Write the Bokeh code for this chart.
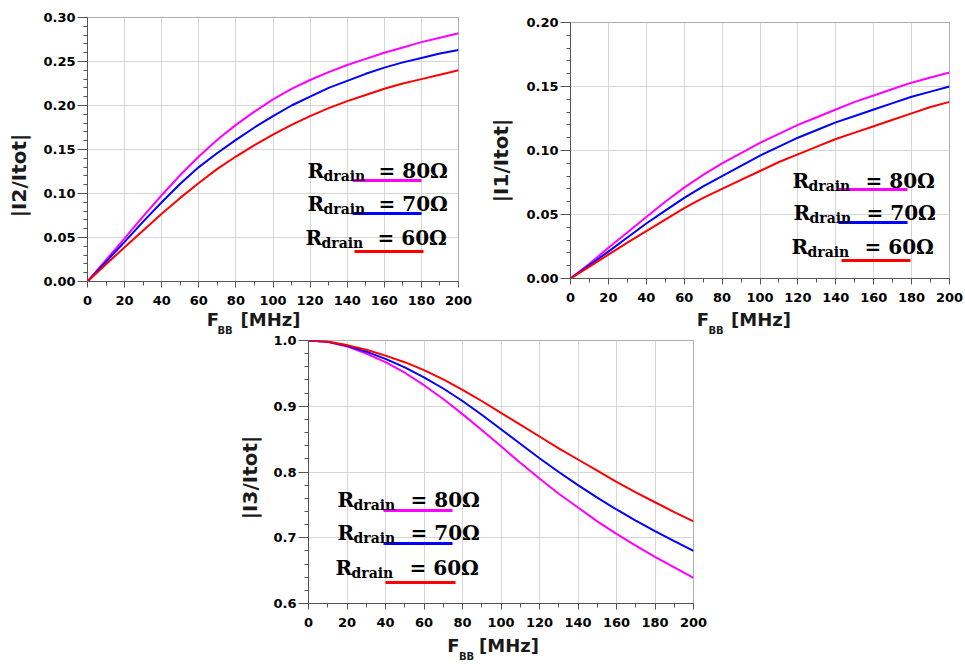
import math
from bokeh.plotting import figure
from bokeh.models import (Range1d, SingleIntervalTicker, NumeralTickFormatter,
                          Label, LinearAxis, FixedTicker, GridBox)
from bokeh.embed import file_html
from bokeh.resources import INLINE

# ---------------- data ----------------
freq_mhz = [0, 10, 20, 30, 40, 50, 60, 70, 80, 90, 100,
            110, 120, 130, 140, 150, 160, 170, 180, 190, 200]

i2_r80 = [0, 0.0245, 0.049, 0.074, 0.098, 0.121, 0.142, 0.161, 0.178, 0.193, 0.207,
          0.219, 0.229, 0.238, 0.246, 0.253, 0.260, 0.266, 0.272, 0.277, 0.282]
i2_r70 = [0, 0.0225, 0.045, 0.068, 0.090, 0.111, 0.130, 0.146, 0.161, 0.175, 0.188,
          0.200, 0.210, 0.220, 0.228, 0.236, 0.243, 0.249, 0.254, 0.259, 0.263]
i2_r60 = [0, 0.0195, 0.039, 0.058, 0.077, 0.095, 0.112, 0.128, 0.142, 0.155, 0.167,
          0.178, 0.188, 0.197, 0.205, 0.212, 0.219, 0.225, 0.230, 0.235, 0.240]

i1_r80 = [0, 0.0115, 0.024, 0.036, 0.048, 0.060, 0.071, 0.081, 0.090, 0.098, 0.106,
          0.113, 0.120, 0.126, 0.132, 0.138, 0.143, 0.148, 0.153, 0.157, 0.161]
i1_r70 = [0, 0.0105, 0.021, 0.032, 0.043, 0.053, 0.063, 0.072, 0.080, 0.088, 0.096,
          0.103, 0.110, 0.116, 0.122, 0.127, 0.132, 0.137, 0.142, 0.146, 0.150]
i1_r60 = [0, 0.0093, 0.0186, 0.028, 0.037, 0.046, 0.055, 0.063, 0.070, 0.077, 0.084,
          0.091, 0.097, 0.103, 0.109, 0.114, 0.119, 0.124, 0.129, 0.134, 0.138]

i3_r80 = [1.0, 0.998, 0.991, 0.980, 0.967, 0.951, 0.932, 0.911, 0.888, 0.864, 0.839,
          0.814, 0.790, 0.767, 0.746, 0.725, 0.706, 0.688, 0.671, 0.655, 0.639]
i3_r70 = [1.0, 0.998, 0.992, 0.983, 0.972, 0.959, 0.944, 0.927, 0.908, 0.887, 0.865,
          0.843, 0.821, 0.800, 0.780, 0.761, 0.743, 0.726, 0.710, 0.695, 0.680]
i3_r60 = [1.0, 0.998, 0.993, 0.986, 0.977, 0.967, 0.955, 0.941, 0.925, 0.908, 0.890,
          0.872, 0.854, 0.836, 0.819, 0.802, 0.785, 0.769, 0.754, 0.739, 0.725]

r_labels = ["80Ω", "70Ω", "60Ω"]
colors = ["#ff00ff", "#0000ff", "#ff0000"]
y_titles = ["|I2/Itot|", "|I1/Itot|", "|I3/Itot|"]
x_title_parts = ["F", "BB", "[MHz]"]

TICK_FONT = "DejaVu Sans"
TITLE_FONT = "DejaVu Sans"
LEG_FONT = "DejaVu Serif"
TITLE_COLOR = "#1a1a1a"
EPS = 1e-9


def make_fig(width, height, frame, origin, yr, ystep, yfmt, transparent=False):
    # frame: (left, top, right, bottom) in page pixels; origin: figure top-left in page pixels
    fl, ft, fr, fb = frame
    ox, oy = origin
    bl = fl - ox
    bt = ft - oy
    br = width - bl - (fr - fl)
    bb = height - bt - (fb - ft)
    p = figure(width=width, height=height, output_backend="svg", toolbar_location=None,
               x_range=Range1d(0, 200 + EPS), y_range=Range1d(yr[0], yr[1] + EPS),
               min_border_left=bl, min_border_top=bt, min_border_right=br,
               min_border_bottom=bb)
    try:
        p.frame_align = False
    except Exception:
        pass
    p.xaxis.ticker = SingleIntervalTicker(interval=20, num_minor_ticks=2)
    p.yaxis.ticker = SingleIntervalTicker(interval=ystep, num_minor_ticks=5)
    p.xaxis.formatter = NumeralTickFormatter(format="0")
    p.yaxis.formatter = NumeralTickFormatter(format=yfmt)
    p.xgrid.ticker = p.xaxis.ticker
    p.ygrid.ticker = p.yaxis.ticker
    for g in (p.xgrid, p.ygrid):
        g.grid_line_color = "#d6d6d6"
        g.grid_line_width = 1
    for ax in (p.xaxis, p.yaxis):
        ax.axis_line_color = "#555555"
        ax.major_tick_line_color = "#555555"
        ax.minor_tick_line_color = "#555555"
        ax.major_tick_in = 0
        ax.minor_tick_in = 0
        ax.major_label_text_font = TICK_FONT
        ax.major_label_text_font_style = "bold"
        ax.major_label_text_font_size = "13px"
        ax.major_label_text_color = "black"
    p.xaxis.major_tick_out = 6
    p.xaxis.minor_tick_out = 4
    p.xaxis.major_label_standoff = 8
    p.yaxis.major_tick_out = 10
    p.yaxis.minor_tick_out = 4
    p.yaxis.major_label_standoff = 2
    p.outline_line_color = "#888888"
    p.outline_line_width = 1
    p.background_fill_color = "white"
    p.border_fill_color = None if transparent else "white"

    def to_data(px, py):
        x = 0 + (px - fl) / (fr - fl) * 200
        y = yr[0] + (fb - py) / (fb - ft) * (yr[1] - yr[0])
        return x, y

    return p, to_data


def text_axis(p, side, positions, texts, size, standoff, vertical=False):
    ticks = list(positions)
    ax = LinearAxis(ticker=FixedTicker(ticks=ticks, minor_ticks=[]),
                    major_label_overrides={t: s for t, s in zip(ticks, texts)})
    ax.axis_line_color = None
    ax.major_tick_line_color = None
    ax.minor_tick_line_color = None
    ax.major_tick_out = 0
    ax.major_tick_in = 0
    ax.minor_tick_out = 0
    ax.minor_tick_in = 0
    ax.major_label_standoff = standoff
    ax.major_label_text_font = TITLE_FONT
    ax.major_label_text_font_style = "bold"
    ax.major_label_text_font_size = size
    ax.major_label_text_color = TITLE_COLOR
    if vertical:
        ax.major_label_orientation = "vertical"
    p.add_layout(ax, side)


def add_titles(p, to_data, ytitle, ycenter_py, ystandoff, f_c, bb_c, mhz_c, xstandoff):
    _, yv = to_data(0, ycenter_py)
    text_axis(p, "left", [yv], [ytitle], "20px", ystandoff, vertical=True)
    xf, _ = to_data(f_c, 0)
    xm, _ = to_data(mhz_c, 0)
    xb, _ = to_data(bb_c, 0)
    text_axis(p, "below", [xf, xm], [x_title_parts[0], x_title_parts[2]], "18px", xstandoff)
    text_axis(p, "below", [xb], [x_title_parts[1]], "10px", -8)


def text(p, to_data, px, py, s, size, font, style="bold"):
    x, y = to_data(px, py)
    p.add_layout(Label(x=x, y=y, text=s, text_font=font, text_font_size=size,
                       text_font_style=style, text_align="left",
                       text_baseline="alphabetic", text_color="black"))


def add_curves(p, series):
    for ys, c in zip(series, colors):
        p.line(freq_mhz, ys, line_color=c, line_width=2)


def add_legend(p, to_data, rows):
    # rows: (R x, baseline, eq x, line y, line x0, line x1) in page pixels
    for (rx, base, eqx, ly, lx0, lx1), lab, c in zip(rows, r_labels, colors):
        text(p, to_data, rx, base, "R", "20px", LEG_FONT)
        text(p, to_data, rx + 16, base + 5, "drain", "14px", LEG_FONT)
        text(p, to_data, eqx, base, "= " + lab, "20px", LEG_FONT)
        x0, y0 = to_data(lx0, ly)
        x1, _ = to_data(lx1, ly)
        p.line([x0, x1], [y0, y0], line_color=c, line_width=3)


# ---------------- top-left: |I2/Itot| ----------------
p1, d1 = make_fig(480, 360, (87, 17, 458, 281), (0, 0), (0, 0.30), 0.05, "0.00")
add_curves(p1, [i2_r80, i2_r70, i2_r60])
add_titles(p1, d1, y_titles[0], 175, 10, 212.5, 224.5, 270, 1)
add_legend(p1, d1, [(307, 170, 378, 180, 352, 421),
                    (307, 203, 378, 213, 352, 421),
                    (305, 237, 377, 251, 354, 423)])

# ---------------- top-right: |I1/Itot| ----------------
p2, d2 = make_fig(485, 360, (570, 22, 949, 278), (480, 0), (0, 0.20), 0.05, "0.00")
add_curves(p2, [i1_r80, i1_r70, i1_r60])
add_titles(p2, d2, y_titles[1], 160, 11, 702.5, 715.5, 760.5, 4)
add_legend(p2, d2, [(792, 180, 865, 189, 838, 907),
                    (793, 212, 866, 222, 838, 907),
                    (791, 246, 864, 260, 841, 910)])

# ---------------- bottom: |I3/Itot| ----------------
p3, d3 = make_fig(745, 331, (308, 340, 693, 603), (220, 333), (0.6, 1.0), 0.1, "0.0",
                  transparent=True)
add_curves(p3, [i3_r80, i3_r70, i3_r60])
add_titles(p3, d3, y_titles[2], 477, 9, 453, 466, 508.5, 5)
add_legend(p3, d3, [(337, 499, 410, 510, 383, 452),
                    (337, 532, 410, 543, 383, 452),
                    (335, 567, 409, 582, 385, 455)])

# the bottom chart's (transparent) top margin overlaps the lower edge of the top row
layout = GridBox(children=[(p1, 0, 0, 2, 2), (p2, 0, 2, 2, 1), (p3, 1, 1, 2, 2)],
                 rows=["333px", "27px", "304px"], cols=["220px", "260px", "485px"],
                 width=965, height=664)

with open("out.html", "w") as f:
    f.write(file_html(layout, INLINE))
